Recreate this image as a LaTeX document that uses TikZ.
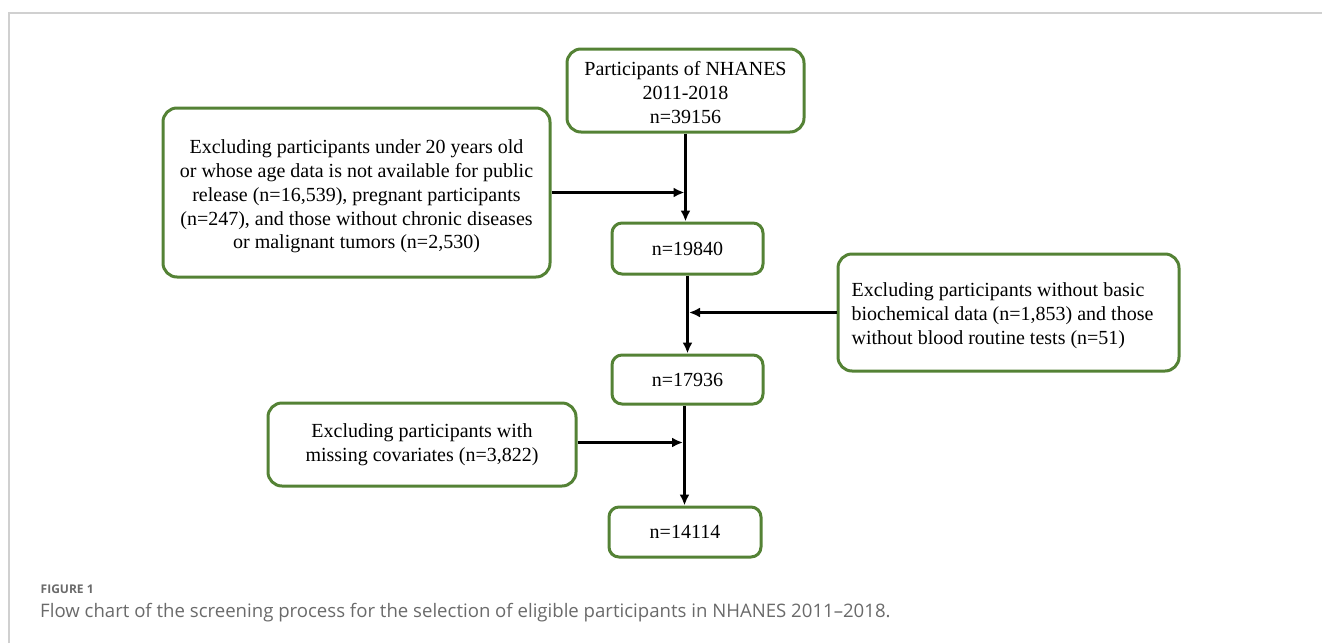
\documentclass[tikz,border=0pt]{standalone}
\usepackage{fontspec}
\setmainfont{Liberation Serif}
\newfontfamily\capfont{Open Sans}
\usetikzlibrary{arrows.meta}
\definecolor{boxgreen}{HTML}{548235}
\definecolor{framegray}{HTML}{D0D0D0}
\definecolor{capgray}{HTML}{6A6A6A}
\tikzset{
  boxfont/.style={font=\fontsize{20}{23.8}\selectfont},
  flowbox/.style={draw=boxgreen, line width=3pt, rounded corners=14pt, inner sep=0pt,
     align=center, boxfont},
  smallbox/.style={flowbox, rounded corners=10pt},
  boxtext/.style={inner sep=0pt, boxfont},
  arr/.style={draw=black, line width=3pt, -{Latex[length=11pt,width=10pt]}}
}
\begin{document}
\begin{tikzpicture}[x=1pt,y=-1pt]
\useasboundingbox (0,0) rectangle (1322,643);
% frame
\draw[framegray, line width=1.3pt] (9,643) -- (9,13) -- (1322,13);
% boxes
\node[flowbox, minimum width=237pt, minimum height=83pt,
  label={[boxtext, align=center, yshift=-2pt]center:Participants of NHANES\\2011-2018\\n=39156}] (A) at (685.5,90.5) {};
\node[flowbox, minimum width=387pt, minimum height=169pt,
  label={[boxtext, align=center, yshift=-4pt]center:Excluding participants under 20 years old\\or whose age data is not available for public\\release (n=16,539), pregnant participants\\(n=247), and those without chronic diseases\\or malignant tumors (n=2,530)}] (B) at (356.5,192.5) {};
\node[smallbox, minimum width=151pt, minimum height=51pt] (C) at (687.5,248.5) {n=19840};
\node[flowbox, minimum width=341pt, minimum height=117pt,
  label={[boxtext, align=left, xshift=-6pt, yshift=-3pt]center:Excluding participants without basic\\biochemical data (n=1,853) and those\\without blood routine tests (n=51)}] (D) at (1008.5,312.5) {};
\node[smallbox, minimum width=151pt, minimum height=49pt] (E) at (687.5,379.5) {n=17936};
\node[flowbox, minimum width=308pt, minimum height=83pt] (F) at (422,444.5)
  {Excluding participants with\\missing covariates (n=3,822)};
\node[smallbox, minimum width=152pt, minimum height=50pt] (G) at (685,532) {n=14114};
% connectors
\draw[arr] (A.south) -- (A.south |- C.north);
\draw[arr] (B.east) -- ([xshift=-1pt]B.east -| A.south);
\draw[arr] (C.south) -- (C.south |- E.north);
\draw[arr] (D.west) -- ([xshift=1.5pt]D.west -| C.south);
\draw[arr] ([xshift=-3pt]E.south) -- ([xshift=-3pt]E.south |- G.north);
\coordinate (fx) at ([xshift=-3pt]E.south);
\draw[arr] ([yshift=2pt]F.east) -- ([yshift=2pt,xshift=-1.5pt]F.east -| fx);
% caption
\node[anchor=base west, inner sep=0pt, font=\capfont\bfseries\fontsize{12}{15}\selectfont, text=capgray] (cap1) at (40.5,593) {FIGURE 1};
\node[anchor=base west, inner sep=0pt, font=\capfont\fontsize{18.6}{22}\selectfont, text=capgray] (cap2) at (40,617.5) {Flow chart of the screening process for the selection of eligible participants in NHANES 2011–2018.};
\end{tikzpicture}
\end{document}
